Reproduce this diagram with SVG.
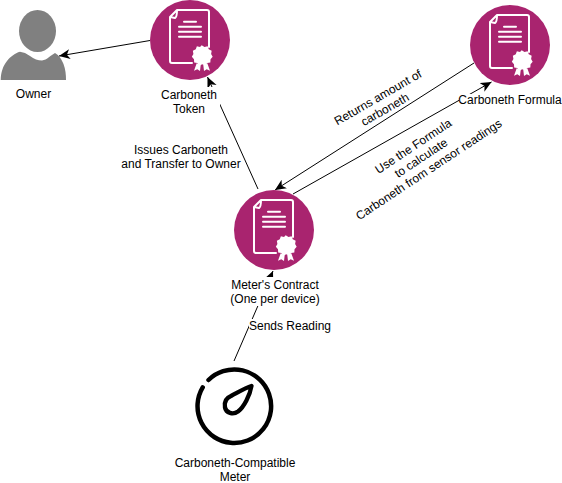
<svg xmlns="http://www.w3.org/2000/svg" xmlns:xlink="http://www.w3.org/1999/xlink" width="562" height="483" viewBox="0 0 562 483">
<style>
text{font-family:"Liberation Sans",Arial,sans-serif;font-size:12px;fill:#000;text-anchor:middle}
.c{fill:none;stroke:#000;stroke-width:1}
.w{fill:none;stroke:#fff;stroke-width:2;stroke-linecap:round;stroke-linejoin:round}
</style>
<defs>
<marker id="a" markerUnits="userSpaceOnUse" markerWidth="12" markerHeight="12" refX="11" refY="5" orient="auto"><path d="M0 0L11 5L0 10L3 5Z" fill="#000"/></marker>
<g id="cert">
<circle r="40" fill="#a9246f"/>
<path class="w" d="M-20 -23L-13 -30H17Q19 -30 19 -28V7M2 23H-18Q-20 23 -20 21V-23L-15 -22Q-13 -23 -13 -30"/>
<path class="w" d="M-6 -18.300H6M-11 -13.300H11M-11 -8.300H11M-11 -3.300H11"/>
<path d="M11.700 6.500l2.500 1.500 2.800-.6 1 2.700 2.600 1.300-.5 2.900 1.400 2.400-1.900 2.200-.2 2.900-2.800.6-1.800 2.300-2.600-1.200-2.600 1.200-1.800-2.300-2.800-.6-.2-2.900-1.900-2.200 1.400-2.400-.5-2.900 2.600-1.300 1-2.700 2.800.6z" transform="translate(11.700 16.700) scale(1.120) translate(-11.700 -16.700)" fill="#fff"/>
<path d="M6.700 23.300L4 30.700L7.300 29.300L10 31L10.700 25ZM13.300 25L14 31L16.700 29.300L20 30.700L17.300 23.300Z" fill="#fff"/>
</g>
</defs>
<g id="connectors">
<path class="c" d="M150 40.500L59 56" marker-end="url(#a)"/>
<path class="c" d="M258 189L207.500 77" marker-end="url(#a)"/>
<path class="c" d="M474 63L275 190" marker-end="url(#a)"/>
<path class="c" d="M293 194L491.500 82" marker-end="url(#a)"/>
<path class="c" d="M234 361L273 271" marker-end="url(#a)"/>
</g>
<g id="owner">
<ellipse cx="37.500" cy="31" rx="18.500" ry="21" fill="#808080"/>
<path d="M0.700 80C1 72 3 66 7 61C10 57 15 53 20 51.700Q25 52 30 56C34 59 38 60.500 42 60.500C47 60 51 55 55 53C59 55 62 60 63.500 64C65.500 69 66 75 66 80Z" fill="#808080"/>
<text x="33.500" y="98">Owner</text>
</g>
<g id="token">
<use xlink:href="#cert" href="#cert" x="190" y="40"/>
<rect x="160" y="87" width="60" height="30" fill="#fff"/>
<text x="189" y="99">Carboneth</text>
<text x="189" y="113">Token</text>
</g>
<g id="formula">
<use xlink:href="#cert" href="#cert" x="510" y="45"/>
<rect x="459" y="94" width="103" height="15" fill="#fff"/>
<text x="510" y="104">Carboneth Formula</text>
</g>
<g id="meter-contract">
<use xlink:href="#cert" href="#cert" x="274" y="230"/>
<rect x="230" y="277" width="90" height="29" fill="#fff"/>
<text x="275" y="289">Meter's Contract</text>
<text x="275" y="303">(One per device)</text>
</g>
<g id="meter">
<path d="M208.500 380A36.800 36.800 0 1 1 202.700 387.400" fill="none" stroke="#000" stroke-width="4.500" stroke-linecap="round"/>
<path d="M251.500 386C250 395 244 407 238 411.500C233 415 226 413 225 407.500C224 402 226 398 231 396C237 393 245 388 251.500 386Z" fill="none" stroke="#000" stroke-width="4.300" stroke-linejoin="round"/>
<text x="235" y="467">Carboneth-Compatible</text>
<text x="235" y="481">Meter</text>
</g>
<g id="labels">
<rect x="131" y="142" width="98" height="30" fill="#fff"/>
<text x="181" y="154">Issues Carboneth</text>
<text x="181" y="168">and Transfer to Owner</text>
<rect x="249" y="319" width="84" height="14" fill="#fff"/>
<text x="290" y="330">Sends Reading</text>
<g transform="rotate(-30 381.500 103.500)">
<text x="381.500" y="100.500">Returns amount of</text>
<text x="381.500" y="114.500">carboneth</text>
</g>
<g transform="rotate(-33.500 421 158)">
<text x="421" y="148">Use the Formula</text>
<text x="421" y="162">to calculate</text>
<text x="421" y="176">Carboneth from sensor readings</text>
</g>
</g>
</svg>
